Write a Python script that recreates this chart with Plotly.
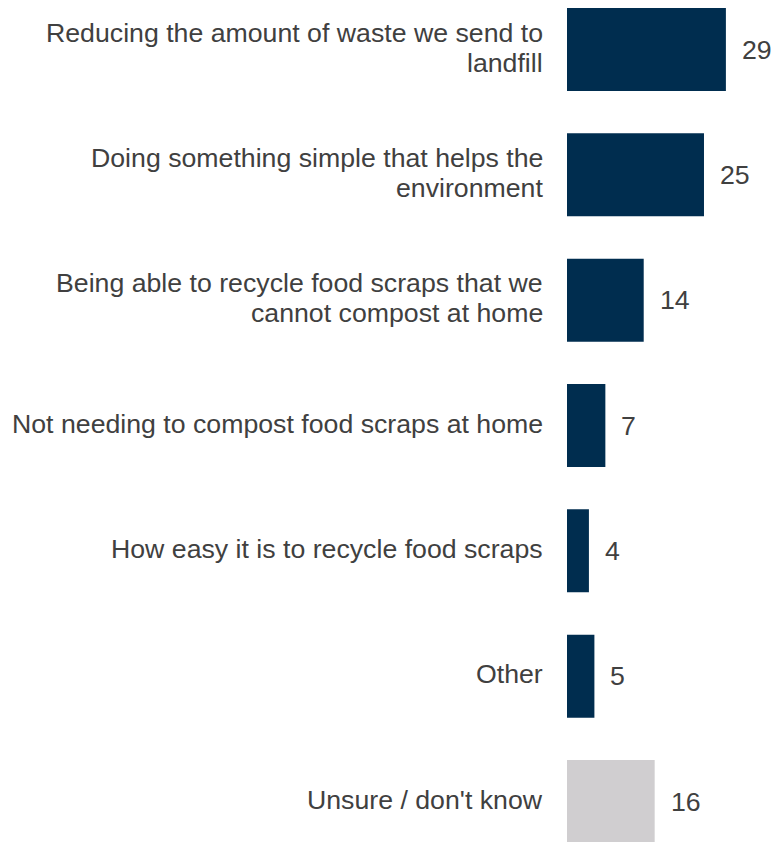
import plotly.graph_objects as go

# Survey responses: main reason for using the food scraps service (%)
categories = [
    "Reducing the amount of waste we send to<br>landfill",
    "Doing something simple that helps the<br>environment",
    "Being able to recycle food scraps that we<br>cannot compost at home",
    "Not needing to compost food scraps at home",
    "How easy it is to recycle food scraps",
    "Other",
    "Unsure / don't know",
]
values = [29, 25, 14, 7, 4, 5, 16]
bar_colors = ["#002D4F"] * 6 + ["#D0CED0"]

TEXT = "#404040"
FONT = "Arial"
SIZE = 26.7
LINE_GAP = 30  # px between wrapped label lines
positions = list(range(len(categories)))

fig = go.Figure(
    go.Bar(
        x=values,
        y=positions,
        orientation="h",
        width=0.662,
        marker=dict(color=bar_colors, line=dict(width=0)),
        hoverinfo="skip",
    )
)

# category labels to the left of the bars, one annotation per wrapped line
for pos, label in zip(positions, categories):
    lines = label.split("<br>")
    n = len(lines)
    for k, line in enumerate(lines):
        fig.add_annotation(
            x=0, y=pos, xref="x", yref="y",
            text=line, showarrow=False,
            xanchor="right", yanchor="middle", align="right",
            xshift=-22,
            yshift=((n - 1) / 2 - k) * LINE_GAP + 2,
            font=dict(family=FONT, size=SIZE, color=TEXT),
        )

# value labels to the right of the bars
for pos, v in zip(positions, values):
    fig.add_annotation(
        x=v, y=pos, xref="x", yref="y",
        text=str(v), showarrow=False,
        xanchor="left", yanchor="middle",
        xshift=14,
        font=dict(family=FONT, size=SIZE, color=TEXT),
    )

fig.update_layout(
    width=775, height=842,
    margin=dict(l=567, r=0, t=0, b=0),
    paper_bgcolor="white", plot_bgcolor="white",
    showlegend=False,
    xaxis=dict(range=[0, 37.96], visible=False, fixedrange=True),
    yaxis=dict(range=[6.323, -0.395], visible=False, fixedrange=True),
)

fig.write_html("out.html")
